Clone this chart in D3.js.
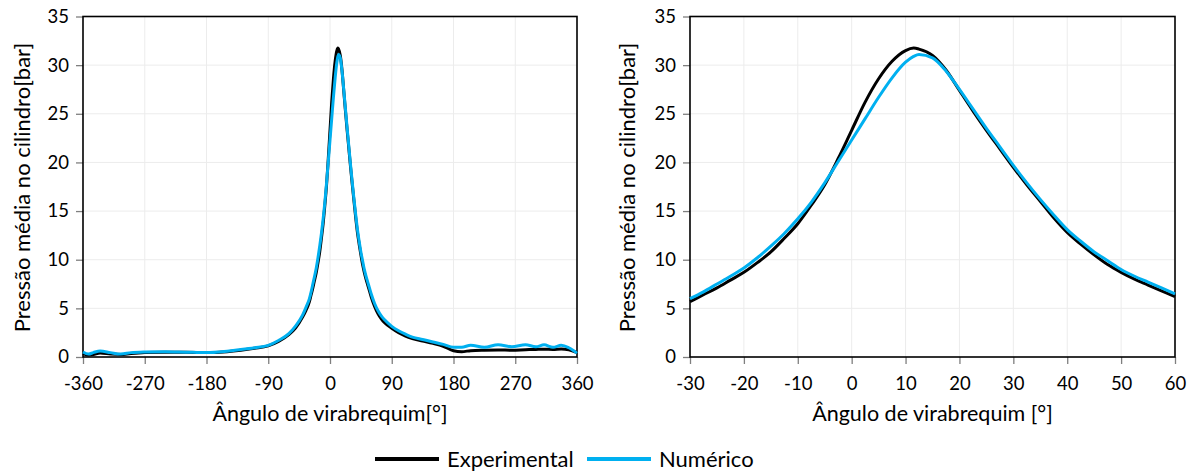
<!DOCTYPE html>
<html>
<head>
<meta charset="utf-8">
<script src="https://cdn.jsdelivr.net/npm/d3@7"></script>
<style>
  body { margin: 0; background: #fff; }
  svg text { font-family: Lato, "Open Sans", sans-serif; fill: #000; }
</style>
</head>
<body>
<svg id="chart" width="1195" height="476"></svg>
<script>
// crank angle [deg]
const angles = [-360, -352, -345, -335, -320, -305, -290, -270, -240, -210, -180, -150, -130, -110, -90, -75, -60, -50, -40, -35,
  -30, -27.5, -25, -22.5, -20, -17.5, -15, -12.5, -10, -7.5, -5, -2.5, 0, 2.5, 5, 7.5, 10, 11.5, 12.5, 15, 17.5, 20, 22.5, 25, 27.5, 30,
  32.5, 35, 37.5, 40, 42.5, 45, 47.5, 50, 52.5, 55, 57.5, 60,
  65, 70, 75, 80, 90, 100, 110, 120, 135, 150, 165, 180, 192, 205, 225, 245, 265, 285, 300, 312, 325, 337, 348, 360];

// mean cylinder pressure [bar]
const experimental = [0.35, 0.2, 0.25, 0.4, 0.3, 0.25, 0.35, 0.45, 0.5, 0.5, 0.45, 0.55, 0.7, 0.9, 1.15, 1.6, 2.3, 3.0, 4.1, 4.8,
  5.7, 6.4, 7.1, 7.9, 8.7, 9.7, 10.8, 12.2, 13.7, 15.6, 17.7, 20.4, 23.3, 26.2, 28.6, 30.4, 31.5, 31.75, 31.65, 31.0, 29.5, 27.4, 25.3, 23.3, 21.4, 19.5,
  17.7, 16.0, 14.3, 12.8, 11.6, 10.5, 9.5, 8.7, 8.0, 7.4, 6.8, 6.2,
  5.2, 4.45, 3.9, 3.5, 2.95, 2.5, 2.15, 1.9, 1.65, 1.4, 1.1, 0.65, 0.55, 0.65, 0.7, 0.72, 0.7, 0.75, 0.78, 0.8, 0.78, 0.82, 0.75, 0.45];

const numerico = [0.52, 0.3, 0.45, 0.62, 0.45, 0.3, 0.45, 0.52, 0.55, 0.5, 0.45, 0.6, 0.76, 0.95, 1.2, 1.7, 2.4, 3.2, 4.3, 5.1,
  6.0, 6.7, 7.5, 8.3, 9.15, 10.2, 11.4, 12.7, 14.2, 15.9, 17.9, 20.1, 22.3, 24.5, 26.7, 28.7, 30.3, 30.9, 31.1, 30.75, 29.4, 27.5, 25.5, 23.5, 21.6, 19.7,
  17.9, 16.2, 14.6, 13.1, 11.9, 10.8, 9.9, 9.0, 8.3, 7.7, 7.1, 6.5,
  5.5, 4.75, 4.2, 3.8, 3.15, 2.7, 2.35, 2.05, 1.8, 1.55, 1.3, 1.0, 1.0, 1.2, 1.0, 1.25, 1.05, 1.25, 1.05, 1.25, 1.0, 1.2, 0.95, 0.4];

const leftTicks = [-360, -270, -180, -90, 0, 90, 180, 270, 360];
const rightTicks = [-30, -20, -10, 0, 10, 20, 30, 40, 50, 60];
const yTicks = [0, 5, 10, 15, 20, 25, 30, 35];

const seriesNames = ["Experimental", "Numérico"];
const seriesColors = ["#000000", "#00b0f0"];

const svg = d3.select("#chart");

function drawPanel(opts) {
  var x = d3.scaleLinear().domain(opts.domain).range([opts.left, opts.right]);
  var y = d3.scaleLinear().domain([0, 35]).range([357, 16.5]);
  var g = svg.append("g");

  // grid
  g.selectAll(".vgrid").data(opts.ticks.slice(1, -1)).enter().append("line")
    .attr("x1", d => x(d)).attr("x2", d => x(d))
    .attr("y1", y(35)).attr("y2", y(0))
    .attr("stroke", "#ececec").attr("stroke-width", 1);
  g.selectAll(".hgrid").data(yTicks.slice(1, -1)).enter().append("line")
    .attr("x1", opts.left).attr("x2", opts.right)
    .attr("y1", d => y(d)).attr("y2", d => y(d))
    .attr("stroke", "#ececec").attr("stroke-width", 1);

  // axes with outward ticks
  var xAxis = g.append("g")
    .attr("transform", "translate(0," + y(0) + ")")
    .call(d3.axisBottom(x).tickValues(opts.ticks).tickSize(7).tickSizeOuter(0).tickFormat(d3.format("d")));
  xAxis.select(".domain").remove();
  xAxis.selectAll(".tick line").attr("stroke", "#7f7f7f").attr("stroke-width", 1.3);
  xAxis.selectAll(".tick text").attr("y", 20).attr("dy", "0.71em")
    .style("font-size", "18.5px").style("font-family", "Lato, sans-serif").attr("fill", "#000")
    .text(d => d < 0 ? "-" + Math.abs(d) : d);

  var yAxis = g.append("g")
    .attr("transform", "translate(" + opts.left + ",0)")
    .call(d3.axisLeft(y).tickValues(yTicks).tickSize(7).tickSizeOuter(0));
  yAxis.select(".domain").remove();
  yAxis.selectAll(".tick line").attr("stroke", "#7f7f7f").attr("stroke-width", 1.3);
  yAxis.selectAll(".tick text").attr("x", -14)
    .style("font-size", "18.5px").style("font-family", "Lato, sans-serif").attr("fill", "#000");

  // frame
  g.append("rect")
    .attr("x", opts.left).attr("y", y(35))
    .attr("width", opts.right - opts.left).attr("height", y(0) - y(35))
    .attr("fill", "none").attr("stroke", "#000").attr("stroke-width", 1.6);

  // curves
  var pts = angles.map((a, i) => ({ a: a, e: experimental[i], n: numerico[i] }))
    .filter(d => d.a >= opts.domain[0] && d.a <= opts.domain[1]);
  ["e", "n"].forEach(function (k, i) {
    g.append("path")
      .datum(pts)
      .attr("fill", "none")
      .attr("stroke", seriesColors[i])
      .attr("stroke-width", 3)
      .attr("stroke-linejoin", "round")
      .attr("d", d3.line().curve(d3.curveMonotoneX).x(d => x(d.a)).y(d => y(d[k])));
  });

  // titles
  g.append("text")
    .attr("x", (opts.left + opts.right) / 2).attr("y", 421)
    .attr("text-anchor", "middle").style("font-size", "21.5px")
    .text(opts.xTitle);
  g.append("text")
    .attr("transform", "translate(" + opts.yTitleX + "," + 187.5 + ")rotate(-90)")
    .attr("text-anchor", "middle").style("font-size", "22px")
    .text("Pressão média no cilindro[bar]");
}

drawPanel({ domain: [-360, 360], left: 83, right: 577, ticks: leftTicks,
  xTitle: "Ângulo de virabrequim[°]", yTitleX: 30 });
drawPanel({ domain: [-30, 60], left: 690, right: 1175, ticks: rightTicks,
  xTitle: "Ângulo de virabrequim [°]", yTitleX: 635 });

// legend
var legend = svg.append("g");
var legX = [375, 587];
seriesNames.forEach(function (name, i) {
  legend.append("line")
    .attr("x1", legX[i]).attr("x2", legX[i] + 64)
    .attr("y1", 459).attr("y2", 459)
    .attr("stroke", seriesColors[i]).attr("stroke-width", 4);
  legend.append("text")
    .attr("x", legX[i] + 72).attr("y", 459).attr("dy", "0.35em")
    .style("font-size", "22px")
    .text(name);
});
</script>
</body>
</html>
